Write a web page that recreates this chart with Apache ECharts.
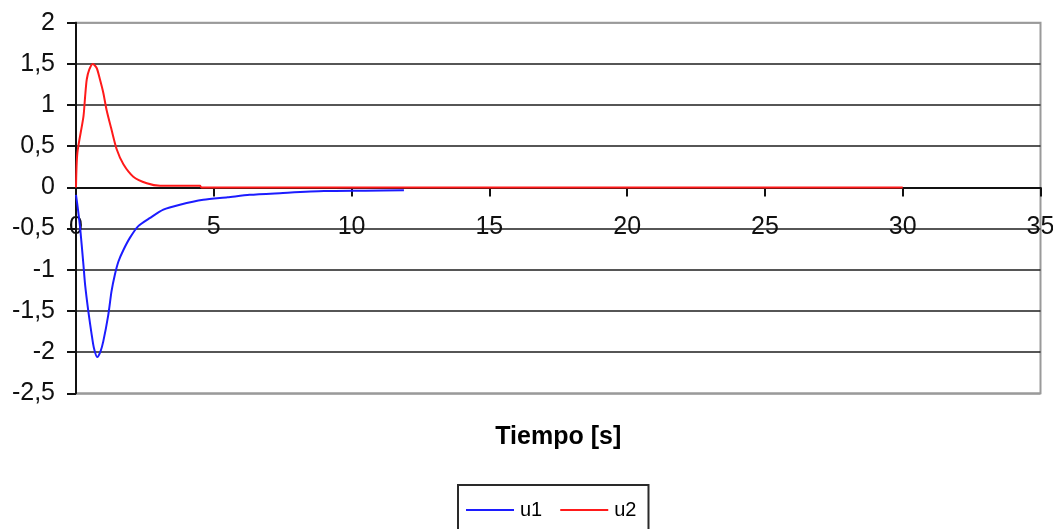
<!DOCTYPE html>
<html>
<head>
<meta charset="utf-8">
<script src="https://cdn.jsdelivr.net/npm/echarts@6/dist/echarts.min.js"></script>
<style>
  html, body { margin: 0; padding: 0; background: #fff; }
  #chart { width: 1053px; height: 529px; }
</style>
</head>
<body>
<div id="chart"></div>
<script>
// Respuesta de las señales de control u1 y u2 en el tiempo
var tiempoU1 = [0, 0.08, 0.15, 0.27, 0.33, 0.45, 0.57, 0.65, 0.77, 0.89, 0.99, 1.17, 1.29, 1.41, 1.54, 1.72, 1.96, 2.26, 2.69, 3.17, 3.77, 4.62, 5.5, 6.3, 7.4, 9.0, 10.5, 11.9];
var valoresU1 = [-0.09, -0.29, -0.49, -0.94, -1.18, -1.51, -1.79, -1.95, -2.06, -1.99, -1.87, -1.55, -1.26, -1.06, -0.90, -0.76, -0.61, -0.47, -0.37, -0.27, -0.21, -0.15, -0.12, -0.09, -0.07, -0.045, -0.04, -0.035];

var tiempoU2 = [0, 0.05, 0.27, 0.33, 0.39, 0.48, 0.61, 0.75, 0.87, 0.99, 1.11, 1.29, 1.48, 1.72, 2.08, 2.57, 3.05, 4.5, 4.55, 30];
var valoresU2 = [0, 0.42, 0.86, 1.10, 1.31, 1.43, 1.50, 1.45, 1.31, 1.15, 0.94, 0.70, 0.46, 0.28, 0.13, 0.05, 0.02, 0.02, 0, 0];

var ticksY = [-2.5, -2, -1.5, -1, -0.5, 0, 0.5, 1, 1.5, 2];
var ticksX = [0, 5, 10, 15, 20, 25, 30, 35];

function pares(ts, vs) {
  return ts.map(function (t, i) { return [t, vs[i]]; });
}

var fuente = '"Liberation Sans", Arial, sans-serif';

// área de trazado
var gridTop = 22.7, gridBottom = 135.7, altoTotal = 529;
var altoGrid = altoTotal - gridTop - gridBottom;
var yMin = ticksY[0], yMax = ticksY[ticksY.length - 1];
// el eje de tiempo cruza en y = 0: desplazamiento desde el borde inferior
var desplazamientoEjeX = -altoGrid * (0 - yMin) / (yMax - yMin);

// gris en los bordes del área (mín y máx), negro en las líneas interiores
var coloresRejilla = ticksY.map(function (v, i) {
  return (i === 0 || i === ticksY.length - 1) ? '#9a9a9a' : '#1e1e1e';
});

var chart = echarts.init(document.getElementById('chart'), null, { renderer: 'canvas' });

chart.setOption({
  animation: false,
  backgroundColor: '#ffffff',
  grid: {
    left: 76, right: 12.5, top: gridTop, bottom: gridBottom,
    containLabel: false, outerBoundsMode: 'none',
    show: true, borderColor: '#9a9a9a', borderWidth: 2, backgroundColor: '#ffffff'
  },
  legend: {
    data: ['u1', 'u2'],
    left: 458, top: 485,
    icon: 'rect', itemWidth: 48, itemHeight: 2, itemGap: 18,
    borderColor: '#2a2a2a', borderWidth: 2,
    padding: [15, 12, 20, 8],
    textStyle: { fontFamily: fuente, fontSize: 20, color: '#000', lineHeight: 20, padding: [0, 0, 0, 1] }
  },
  xAxis: {
    type: 'value',
    position: 'bottom',
    offset: desplazamientoEjeX,
    min: ticksX[0], max: ticksX[ticksX.length - 1], interval: 5,
    name: 'Tiempo [s]',
    nameLocation: 'middle',
    nameGap: 237,
    nameTextStyle: { fontFamily: fuente, fontSize: 25, fontWeight: 'bold', color: '#000', verticalAlign: 'top' },
    axisLine: { onZero: false, lineStyle: { color: '#111', width: 2 } },
    axisTick: { show: true, inside: false, length: 9, lineStyle: { color: '#111', width: 2 } },
    axisLabel: { fontFamily: fuente, fontSize: 25, color: '#111', margin: 27 },
    splitLine: { show: false }
  },
  yAxis: {
    type: 'value',
    min: yMin, max: yMax, interval: 0.5,
    axisLine: { show: true, onZero: false, lineStyle: { color: '#111', width: 2 } },
    axisTick: { show: true, inside: false, length: 9, lineStyle: { color: '#111', width: 2 } },
    axisLabel: {
      fontFamily: fuente, fontSize: 25, color: '#111', margin: 21,
      formatter: function (v) { return String(v).replace('.', ','); }
    },
    splitLine: { show: true, lineStyle: { color: coloresRejilla, width: 1.7 } }
  },
  series: [
    {
      name: 'u1', type: 'line', data: pares(tiempoU1, valoresU1),
      showSymbol: false, smooth: 0.25,
      lineStyle: { color: '#1c1cff', width: 2 }, itemStyle: { color: '#1c1cff' }
    },
    {
      name: 'u2', type: 'line', data: pares(tiempoU2, valoresU2),
      showSymbol: false, smooth: 0.25,
      lineStyle: { color: '#ff1a1a', width: 2 }, itemStyle: { color: '#ff1a1a' }
    }
  ]
});
</script>
</body>
</html>
